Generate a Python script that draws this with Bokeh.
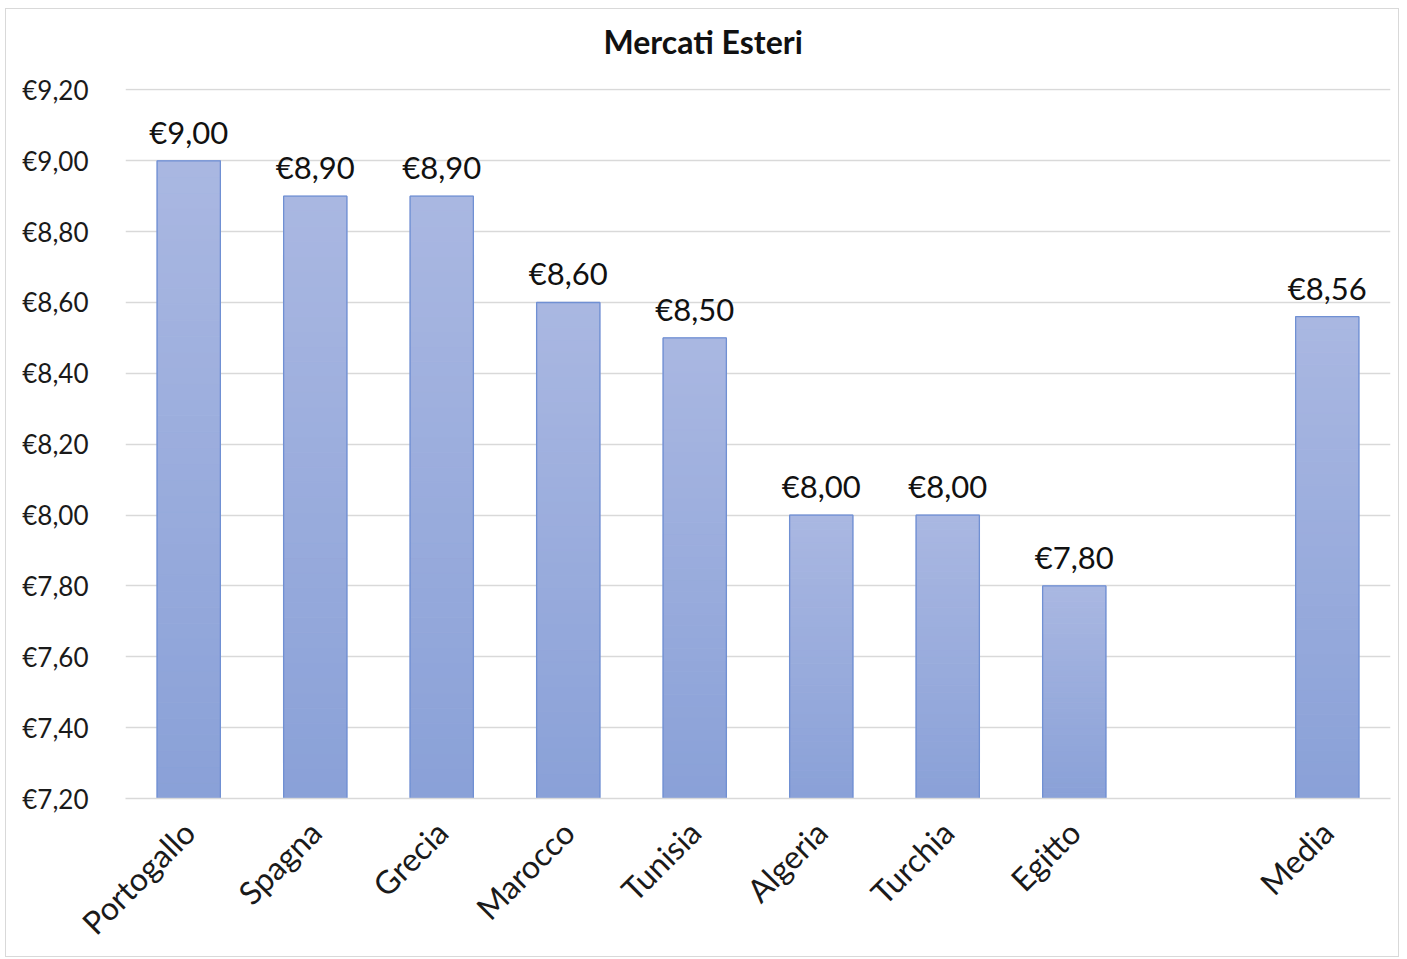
import numpy as np
from bokeh.plotting import figure
from bokeh.models import ColumnDataSource, Range1d, FixedTicker, CustomJSTickFormatter, Title
from bokeh.core.properties import value
from bokeh.embed import file_html
from bokeh.resources import INLINE

categories = ["Portogallo", "Spagna", "Grecia", "Marocco", "Tunisia",
              "Algeria", "Turchia", "Egitto", " ", "Media"]
bar_categories = ["Portogallo", "Spagna", "Grecia", "Marocco", "Tunisia",
                  "Algeria", "Turchia", "Egitto", "Media"]
prices = [9.00, 8.90, 8.90, 8.60, 8.50, 8.00, 8.00, 7.80, 8.56]
y_ticks = [7.2, 7.4, 7.6, 7.8, 8.0, 8.2, 8.4, 8.6, 8.8, 9.0, 9.2]
y_min, y_max = 7.2, 9.2
title_text = "Mercati Esteri"

FONT = "Lato"
BAR_W = 0.5
TOP_RGB = np.array([170, 184, 226])
BOT_RGB = np.array([138, 161, 216])
OUTLINE = "#7090D3"

# a hair of headroom so the top gridline is not clipped by the plot frame
p = figure(x_range=categories, y_range=Range1d(y_min, y_max + 0.004),
           width=1394, height=949, output_backend="svg", toolbar_location=None,
           min_border_left=119, min_border_right=10, min_border_top=79,
           min_border_bottom=160)
p.styles = {"border": "1px solid #D9D9D9",
            "margin-left": "5px", "margin-top": "8px"}

# gradient bars built from slices of each bar (lighter at top, darker at bottom)
N = 40
xs, bots, tops, cols = [], [], [], []
for c, v in zip(bar_categories, prices):
    h = v - y_min
    for k in range(N):
        t = (k + 0.5) / N
        rgb = (BOT_RGB + (TOP_RGB - BOT_RGB) * t).astype(int)
        xs.append(c)
        bots.append(y_min + h * k / N)
        tops.append(y_min + h * (k + 1) / N)
        cols.append("#%02x%02x%02x" % tuple(rgb))
grad = ColumnDataSource(dict(x=xs, bottom=bots, top=tops, color=cols))
p.vbar(x="x", bottom="bottom", top="top", width=BAR_W, source=grad,
       fill_color="color", line_color="color", line_width=1)

src = ColumnDataSource(dict(
    x=bar_categories, top=prices,
    label=["€" + f"{v:.2f}".replace(".", ",") for v in prices]))
p.vbar(x="x", top="top", bottom=y_min, width=BAR_W, source=src,
       fill_alpha=0, line_color=OUTLINE, line_width=1.3)
p.text(x="x", y="top", text="label", source=src, text_align="center",
       text_baseline="bottom", y_offset=-10, text_font=value(FONT),
       text_font_size="31px", text_color="#111111")

# spacer panel between the title and the plot area
p.add_layout(Title(text=" ", text_font_size="10px", standoff=13), "above")

# title
p.title.text = title_text
p.title.align = "left"
p.title.vertical_align = "top"
p.title.offset = 478
p.title.standoff = 0
p.title.text_font = FONT
p.title.text_font_style = "bold"
p.title.text_font_size = "32px"
p.title.text_color = "#111111"

# axes
p.yaxis.ticker = FixedTicker(ticks=y_ticks)
p.yaxis.formatter = CustomJSTickFormatter(
    code='return "€" + tick.toFixed(2).replace(".", ",");')
p.yaxis.axis_line_color = None
p.yaxis.major_tick_line_color = None
p.yaxis.minor_tick_line_color = None
p.yaxis.major_label_standoff = 31
p.yaxis.major_label_text_font = FONT
p.yaxis.major_label_text_font_size = "26px"
p.yaxis.major_label_text_color = "#1a1a1a"

p.xaxis.axis_line_color = "#D9D9D9"
p.xaxis.axis_line_width = 1.5
p.xaxis.major_tick_line_color = None
p.xaxis.minor_tick_line_color = None
p.xaxis.major_label_orientation = np.pi / 4
p.xaxis.major_label_standoff = 22
p.xaxis.major_label_text_font = FONT
p.xaxis.major_label_text_font_size = "32px"
p.xaxis.major_label_text_color = "#1a1a1a"

p.xgrid.grid_line_color = None
p.ygrid.grid_line_color = "#D9D9D9"
p.ygrid.grid_line_width = 1.5
p.outline_line_color = None
p.x_range.range_padding = 0

open("out.html", "w").write(file_html(p, INLINE))
